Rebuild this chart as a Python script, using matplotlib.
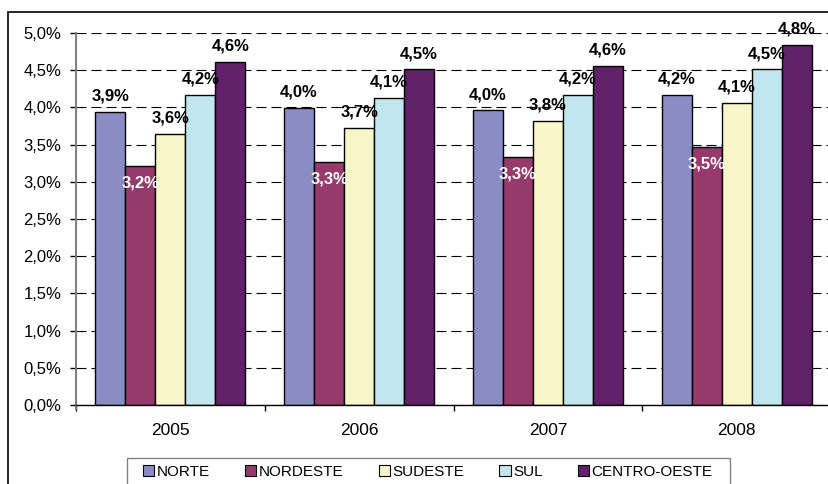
import numpy as np
import matplotlib
matplotlib.use("Agg")
import matplotlib.pyplot as plt
from matplotlib.patches import Rectangle

plt.rcParams['font.family'] = ['Liberation Sans', 'DejaVu Sans']

years = ["2005", "2006", "2007", "2008"]
regions = ["NORTE", "NORDESTE", "SUDESTE", "SUL", "CENTRO-OESTE"]
norte = [3.94, 3.99, 3.96, 4.17]
nordeste = [3.21, 3.27, 3.34, 3.47]
sudeste = [3.64, 3.72, 3.82, 4.06]
sul = [4.17, 4.13, 4.17, 4.51]
centro_oeste = [4.61, 4.51, 4.56, 4.84]
yticks = [0.0, 0.5, 1.0, 1.5, 2.0, 2.5, 3.0, 3.5, 4.0, 4.5, 5.0]

series = [norte, nordeste, sudeste, sul, centro_oeste]
colors = ["#8A8CC4", "#963A6C", "#F8F6C8", "#C2E6EE", "#612067"]

W, H = 829, 484
fig = plt.figure(figsize=(W / 100, H / 100), dpi=100)
ax = fig.add_axes([76 / W, 1 - 405 / H, 755 / W, 372 / H])

# outer chart frame (cut off at right and bottom like the original)
fig.patches.append(Rectangle((8 / W, -0.1), 1.2, 1 - 12 / H + 0.1,
                             transform=fig.transFigure, fill=False,
                             edgecolor="black", linewidth=1.2))
# legend frame
fig.patches.append(Rectangle((127 / W, -0.1), (730 - 127) / W, 1 - 458 / H + 0.1,
                             transform=fig.transFigure, fill=False,
                             edgecolor="#808080", linewidth=1.0))

x = np.arange(len(years))
bw = 0.159
for i, (vals, col, name) in enumerate(zip(series, colors, regions)):
    pos = x + (i - 2) * bw
    ax.bar(pos, vals, bw, color=col, edgecolor="black", linewidth=1.0,
           label=name, zorder=3)
    for px, v in zip(pos, vals):
        txt = ("%.1f%%" % v).replace(".", ",")
        if name == "NORDESTE":
            ax.annotate(txt, (px, v), xytext=(0, -7), textcoords="offset points",
                        ha="center", va="top", fontsize=12, fontweight="bold",
                        color="white", zorder=5)
        else:
            ax.annotate(txt, (px, v), xytext=(0, 6), textcoords="offset points",
                        ha="center", va="bottom", fontsize=12, fontweight="bold",
                        color="black", zorder=5)

ax.set_xlim(-0.5, 3.5)
ax.set_ylim(0, 5)
ax.set_yticks(yticks)
ax.set_yticklabels([("%.1f%%" % t).replace(".", ",") for t in yticks], fontsize=12)
ax.yaxis.grid(True, linestyle=(0, (9, 4.5)), color="black", linewidth=0.8, zorder=0)

ax.set_xticks(x)
ax.set_xticklabels(years, fontsize=12.5)
ax.set_xticks(np.arange(-0.5, 4.0, 1.0), minor=True)
ax.tick_params(axis="x", which="major", length=0, pad=13)
ax.tick_params(axis="x", which="minor", length=4, width=1, direction="out")
ax.tick_params(axis="y", length=4.5, width=1, pad=6, color="black")

for s in ["top", "right"]:
    ax.spines[s].set_visible(False)
ax.spines["left"].set_color("#808080")
ax.spines["left"].set_linewidth(1.5)
ax.spines["left"].set_bounds(-0.06, 5)
ax.spines["bottom"].set_color("black")
ax.spines["bottom"].set_linewidth(1.0)
ax.spines["bottom"].set_zorder(4)

leg = fig.legend(loc="center left", bbox_to_anchor=(143 / W, 1 - 472 / H),
                 ncol=5, fontsize=11, frameon=False,
                 handlelength=0.75, handleheight=0.75,
                 handletextpad=0.15, columnspacing=2.3, borderpad=0,
                 borderaxespad=0)
for h in leg.legend_handles:
    h.set_edgecolor("black")
    h.set_linewidth(0.8)

fig.savefig("out.png", dpi=100)
